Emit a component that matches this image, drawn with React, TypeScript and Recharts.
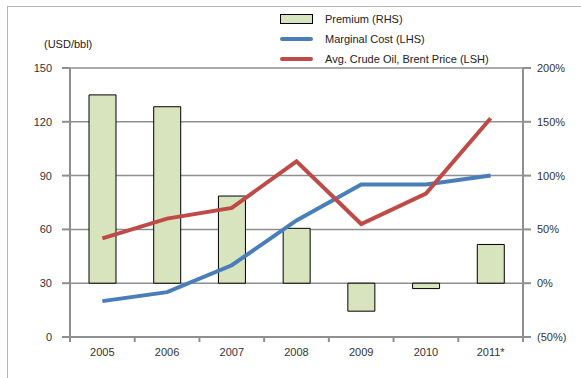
import React from 'react';
import { ComposedChart, Bar, Line, XAxis, YAxis, CartesianGrid } from 'recharts';

const years = ['2005', '2006', '2007', '2008', '2009', '2010', '2011*'];
const premium = [175, 164, 81, 51, -26, -5, 36];
const marginalCost = [20, 25, 40, 65, 85, 85, 90];
const brentPrice = [55, 66, 72, 98, 63, 80, 122];
const leftTicks = [0, 30, 60, 90, 120, 150];
const rightTicks = [-50, 0, 50, 100, 150, 200];

const data = years.map((year, i) => ({
  year,
  premium: premium[i],
  marginal: marginalCost[i],
  brent: brentPrice[i]
}));

const FONT = '"Liberation Sans", Arial, sans-serif';
const AXIS = '#8f8f8f';
const BAR_FILL = '#d7e4bd';
const BLUE = '#4a7ebb';
const RED = '#be4b48';
const W = 581;
const H = 378;
const PLOT_LEFT = 70;
const PLOT_RIGHT = 523;
const BAND = (PLOT_RIGHT - PLOT_LEFT) / years.length;

const legendItems = [
  { name: 'Premium (RHS)', kind: 'bar', color: BAR_FILL },
  { name: 'Marginal Cost (LHS)', kind: 'line', color: BLUE },
  { name: 'Avg. Crude Oil, Brent Price (LSH)', kind: 'line', color: RED }
];

const pct = (v: number) => (v < 0 ? `(${Math.abs(v)}%)` : `${v}%`);

// category label in the middle, tick marks on the band edges
const XTick = ({ x, y, payload, index }: any) => (
  <g>
    <line x1={x - BAND / 2} y1={y - 8} x2={x - BAND / 2} y2={y - 3} stroke={AXIS} strokeWidth={2} />
    {index === years.length - 1 &&
    <line x1={x + BAND / 2} y1={y - 8} x2={x + BAND / 2} y2={y - 3} stroke={AXIS} strokeWidth={2} />
    }
    <text x={x} y={y + 11} textAnchor="middle" fontSize={11} fill="#333" fontFamily={FONT}>
      {payload.value}
    </text>
  </g>);

export default function App() {
  return (
    <div style={{ position: 'absolute', left: 0, top: 0, width: W, height: H, background: '#fff', overflow: 'hidden' }}>
      <div style={{ position: 'absolute', left: 7, top: 6, width: W, height: H, borderTop: '1px solid #b5b5b5', borderLeft: '1px solid #b5b5b5' }} />
      <div style={{ position: 'absolute', left: 44, top: 38, fontFamily: FONT, fontSize: 11, color: '#222' }}>(USD/bbl)</div>
      <div style={{ position: 'absolute', left: 280, top: 9, fontFamily: FONT, fontSize: 11, color: '#222' }}>
        {legendItems.map((it) =>
        <div key={it.name} style={{ display: 'flex', alignItems: 'center', height: 20 }}>
            {it.kind === 'bar' ?
          <span style={{ width: 31, height: 8, background: it.color, border: '1px solid #000', marginRight: 12 }} /> :
          <span style={{ width: 33, height: 4, background: it.color, borderRadius: 2, marginRight: 12 }} />
          }
            <span>{it.name}</span>
          </div>
        )}
      </div>
      <ComposedChart width={W} height={H} data={data} margin={{ top: 68, right: 0, bottom: 11, left: 0 }}>
        <CartesianGrid vertical={false} stroke={AXIS} strokeWidth={1.5} yAxisId="left" />
        <XAxis
          dataKey="year"
          height={30}
          axisLine={{ stroke: AXIS, strokeWidth: 2 }}
          tickLine={false}
          tick={<XTick />}
          interval={0} />
        <YAxis
          yAxisId="left"
          width={70}
          domain={[0, 150]}
          ticks={leftTicks}
          axisLine={{ stroke: AXIS, strokeWidth: 2 }}
          tickLine={{ stroke: AXIS, strokeWidth: 2 }}
          tickSize={8}
          tickMargin={10}
          tick={{ fontSize: 11, fill: '#333', fontFamily: FONT }} />
        <YAxis
          yAxisId="right"
          orientation="right"
          width={58}
          domain={[-50, 200]}
          ticks={rightTicks}
          tickFormatter={pct}
          axisLine={{ stroke: AXIS, strokeWidth: 2 }}
          tickLine={{ stroke: AXIS, strokeWidth: 2 }}
          tickSize={8}
          tickMargin={6}
          tick={{ fontSize: 11, fill: '#333', fontFamily: FONT }} />
        <Bar
          yAxisId="right"
          dataKey="premium"
          fill={BAR_FILL}
          stroke="#000"
          strokeWidth={1}
          barSize={27}
          isAnimationActive={false} />
        <Line
          yAxisId="left"
          dataKey="marginal"
          stroke={BLUE}
          strokeWidth={4}
          dot={false}
          activeDot={false}
          type="linear"
          isAnimationActive={false} />
        <Line
          yAxisId="left"
          dataKey="brent"
          stroke={RED}
          strokeWidth={4}
          dot={false}
          activeDot={false}
          type="linear"
          isAnimationActive={false} />
      </ComposedChart>
    </div>);
}
